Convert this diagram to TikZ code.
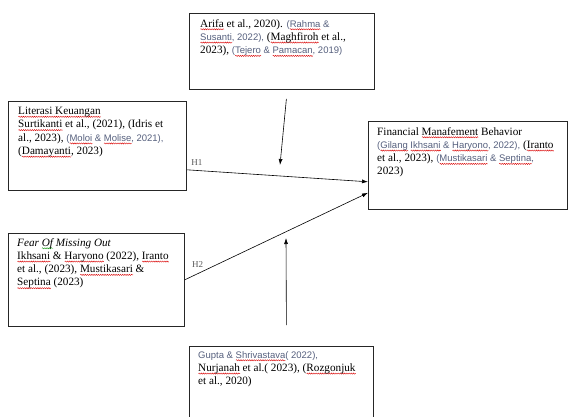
\documentclass[tikz,border=0pt]{standalone}
\usepackage{fontspec}
\setmainfont{Liberation Serif}
\newfontfamily\srcfont{Liberation Sans}
\usetikzlibrary{arrows.meta,calc,decorations.pathmorphing}
\definecolor{citeblue}{RGB}{85,95,125}
% wavy spell-check marks
\newsavebox{\wavebox}
\newcommand{\wavemark}[2]{\sbox{\wavebox}{#2}%
  \rlap{\tikz[baseline=0pt]\draw[#1,line width=0.4pt,decorate,decoration={snake,amplitude=0.6pt,segment length=2.2pt,pre length=0pt,post length=0pt}] (0pt,-2.2pt) -- (\wd\wavebox,-2.2pt);}%
  \usebox{\wavebox}}
\newcommand{\typo}[1]{\wavemark{red!85!black}{#1}}
\newcommand{\gram}[1]{\wavemark{green!55!black}{#1}}
\newcommand{\src}[1]{{\srcfont\fontsize{9.5}{13.3}\selectfont\color{citeblue}#1}}

\begin{document}
\begin{tikzpicture}[x=1pt,y=1pt,
  factor/.style={draw=black!85,line width=0.8pt,anchor=north west,inner sep=0pt},
  txt/.style={anchor=north west,align=left,inner sep=0pt,font=\fontsize{11.2}{13.3}\selectfont},
  hyp/.style={font=\fontsize{9}{10}\selectfont,text=black!65},
  link/.style={line width=0.6pt,-{Latex[length=6pt,width=4pt]}}]
  \useasboundingbox (0,0) rectangle (569,416);
  \clip (0,0) rectangle (569,416);

  % boxes
  \node[factor,minimum width=185pt,minimum height=76pt] (moda) at (189,403) {};
  \node[factor,minimum width=178pt,minimum height=89pt] (lit) at (8,315) {};
  \node[factor,minimum width=176pt,minimum height=93pt] (fomo) at (8,183) {};
  \node[factor,minimum width=199pt,minimum height=88pt] (fmb) at (368,295) {};
  \node[factor,minimum width=184pt,minimum height=90pt] (modb) at (189,70) {};

  % texts
  \node[txt] (moda text) at ($(moda.north west)+(11,-6)$)
    {\typo{Arifa} et al., 2020). \src{(\typo{Rahma} \&}\\
     \src{\typo{Susanti}, 2022),} (\typo{Maghfiroh} et al.,\\
     2023), \src{(\typo{Tejero} \& \typo{Pamacan}, 2019)}};
  \node[txt] (lit text) at ($(lit.north west)+(10,-6)$)
    {\typo{Literasi Keuangan}\\
     \typo{Surtikanti} et al., (2021), (Idris et\\
     al., 2023), \src{(\typo{Moloi} \& \typo{Molise}, 2021),}\\
     (\typo{Damayanti}, 2023)};
  \node[txt] (fmb text) at ($(fmb.north west)+(9,-6)$)
    {Financial \typo{Manafement} Behavior\\
     \src{(\typo{Gilang} \typo{Ikhsani} \& \typo{Haryono}, 2022),} (\typo{Iranto}\\
     et al., 2023), \src{(\typo{Mustikasari} \& \typo{Septina},}\\
     2023)};
  \node[txt] (fomo text) at ($(fomo.north west)+(9,-5)$)
    {\textit{Fear \gram{Of} Missing Out}\\
     \typo{Ikhsani} \& \typo{Haryono} (2022), \typo{Iranto}\\
     et al., (2023), \typo{Mustikasari} \&\\
     \typo{Septina} (2023)};
  \node[txt] (modb text) at ($(modb.north west)+(9,-5)$)
    {\src{Gupta \& \typo{Shrivastava}( 2022),}\\
     \typo{Nurjanah} et al.( 2023), (\typo{Rozgonjuk}\\
     et al., 2020)};

  % hypotheses
  \draw[link] ($(lit.south east)+(0,21)$) -- node[hyp,above=1pt,pos=0.055] (h1) {H1} ($(fmb.south west)+(0,28)$);
  \draw[link] ($(fomo.south east)+(0,47)$) -- node[hyp,above=3pt,pos=0.07] (h2) {H2} ($(fmb.south west)+(0,17)$);

  % moderating arrows
  \coordinate (moda tip) at (280,251);
  \coordinate (modb tip) at (286,178);
  \draw[link] ($(moda.south)+(4.5,-9)$) -- (moda tip);
  \draw[link] ($(modb.north)+(5,21)$) -- (modb tip);
\end{tikzpicture}
\end{document}
